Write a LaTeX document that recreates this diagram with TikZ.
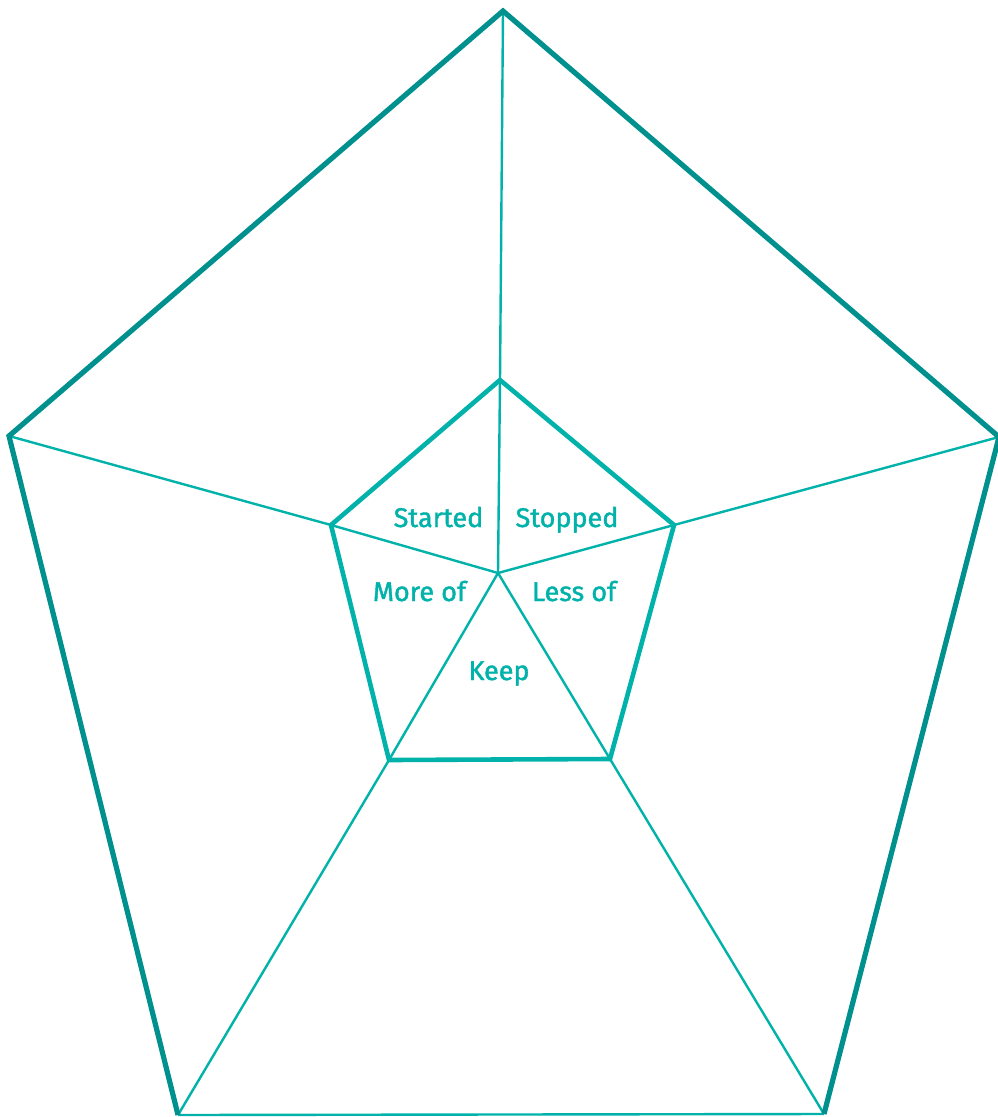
\documentclass[tikz,border=0pt]{standalone}
\usepackage{fontspec}
\setmainfont{Fira Sans}[FakeBold=1.5]
\definecolor{darkteal}{HTML}{00918F}
\definecolor{brightteal}{HTML}{00B2A9}
\begin{document}
\begin{tikzpicture}[x=1pt,y=-1pt,
  outeredge/.style={draw=darkteal,line width=5.2pt,line join=miter,line cap=butt},
  inneredge/.style={draw=brightteal,line width=4.6pt,line join=miter},
  spoke/.style={draw=brightteal,line width=2.4pt},
  lbl/.style={text=brightteal,font=\fontsize{27}{29}\selectfont,inner sep=0pt,anchor=base}]
\useasboundingbox (0,0) rectangle (998,1117);
% outer vertices
\coordinate (OT) at (503,11);
\coordinate (OL) at (9,436);
\coordinate (OR) at (999,437);
\coordinate (OBL) at (178,1115);
\coordinate (OBR) at (824,1114);
% inner vertices
\coordinate (IT) at (500,380);
\coordinate (IL) at (331,525);
\coordinate (IR) at (674,525);
\coordinate (IBL) at (389,760);
\coordinate (IBR) at (610,759);
\coordinate (C) at (498,573);
% spokes
\draw[spoke] (C) -- (IT) -- (OT);
\draw[spoke] (C) -- (IL) -- (OL);
\draw[spoke] (C) -- (IR) -- (OR);
\draw[spoke] (C) -- (IBL) -- (OBL);
\draw[spoke] (C) -- (IBR) -- (OBR);
\draw[spoke] (OBL) -- (OBR);
% inner pentagon
\draw[inneredge] (IT) -- (IR) -- (IBR) -- (IBL) -- (IL) -- cycle;
% outer pentagon (bottom edge thin)
\draw[outeredge] (OBR) -- (OR) -- (OT) -- (OL) -- (OBL);
% labels
\node[lbl] (started) at (438.5,527) {Started};
\node[lbl] (stopped) at (567,527) {Stopped};
\node[lbl] (moreof) at (419.5,601) {More of};
\node[lbl] (lessof) at (574,601) {Less of};
\node[lbl] (keep) at (499,680) {Keep};
\end{tikzpicture}
\end{document}
